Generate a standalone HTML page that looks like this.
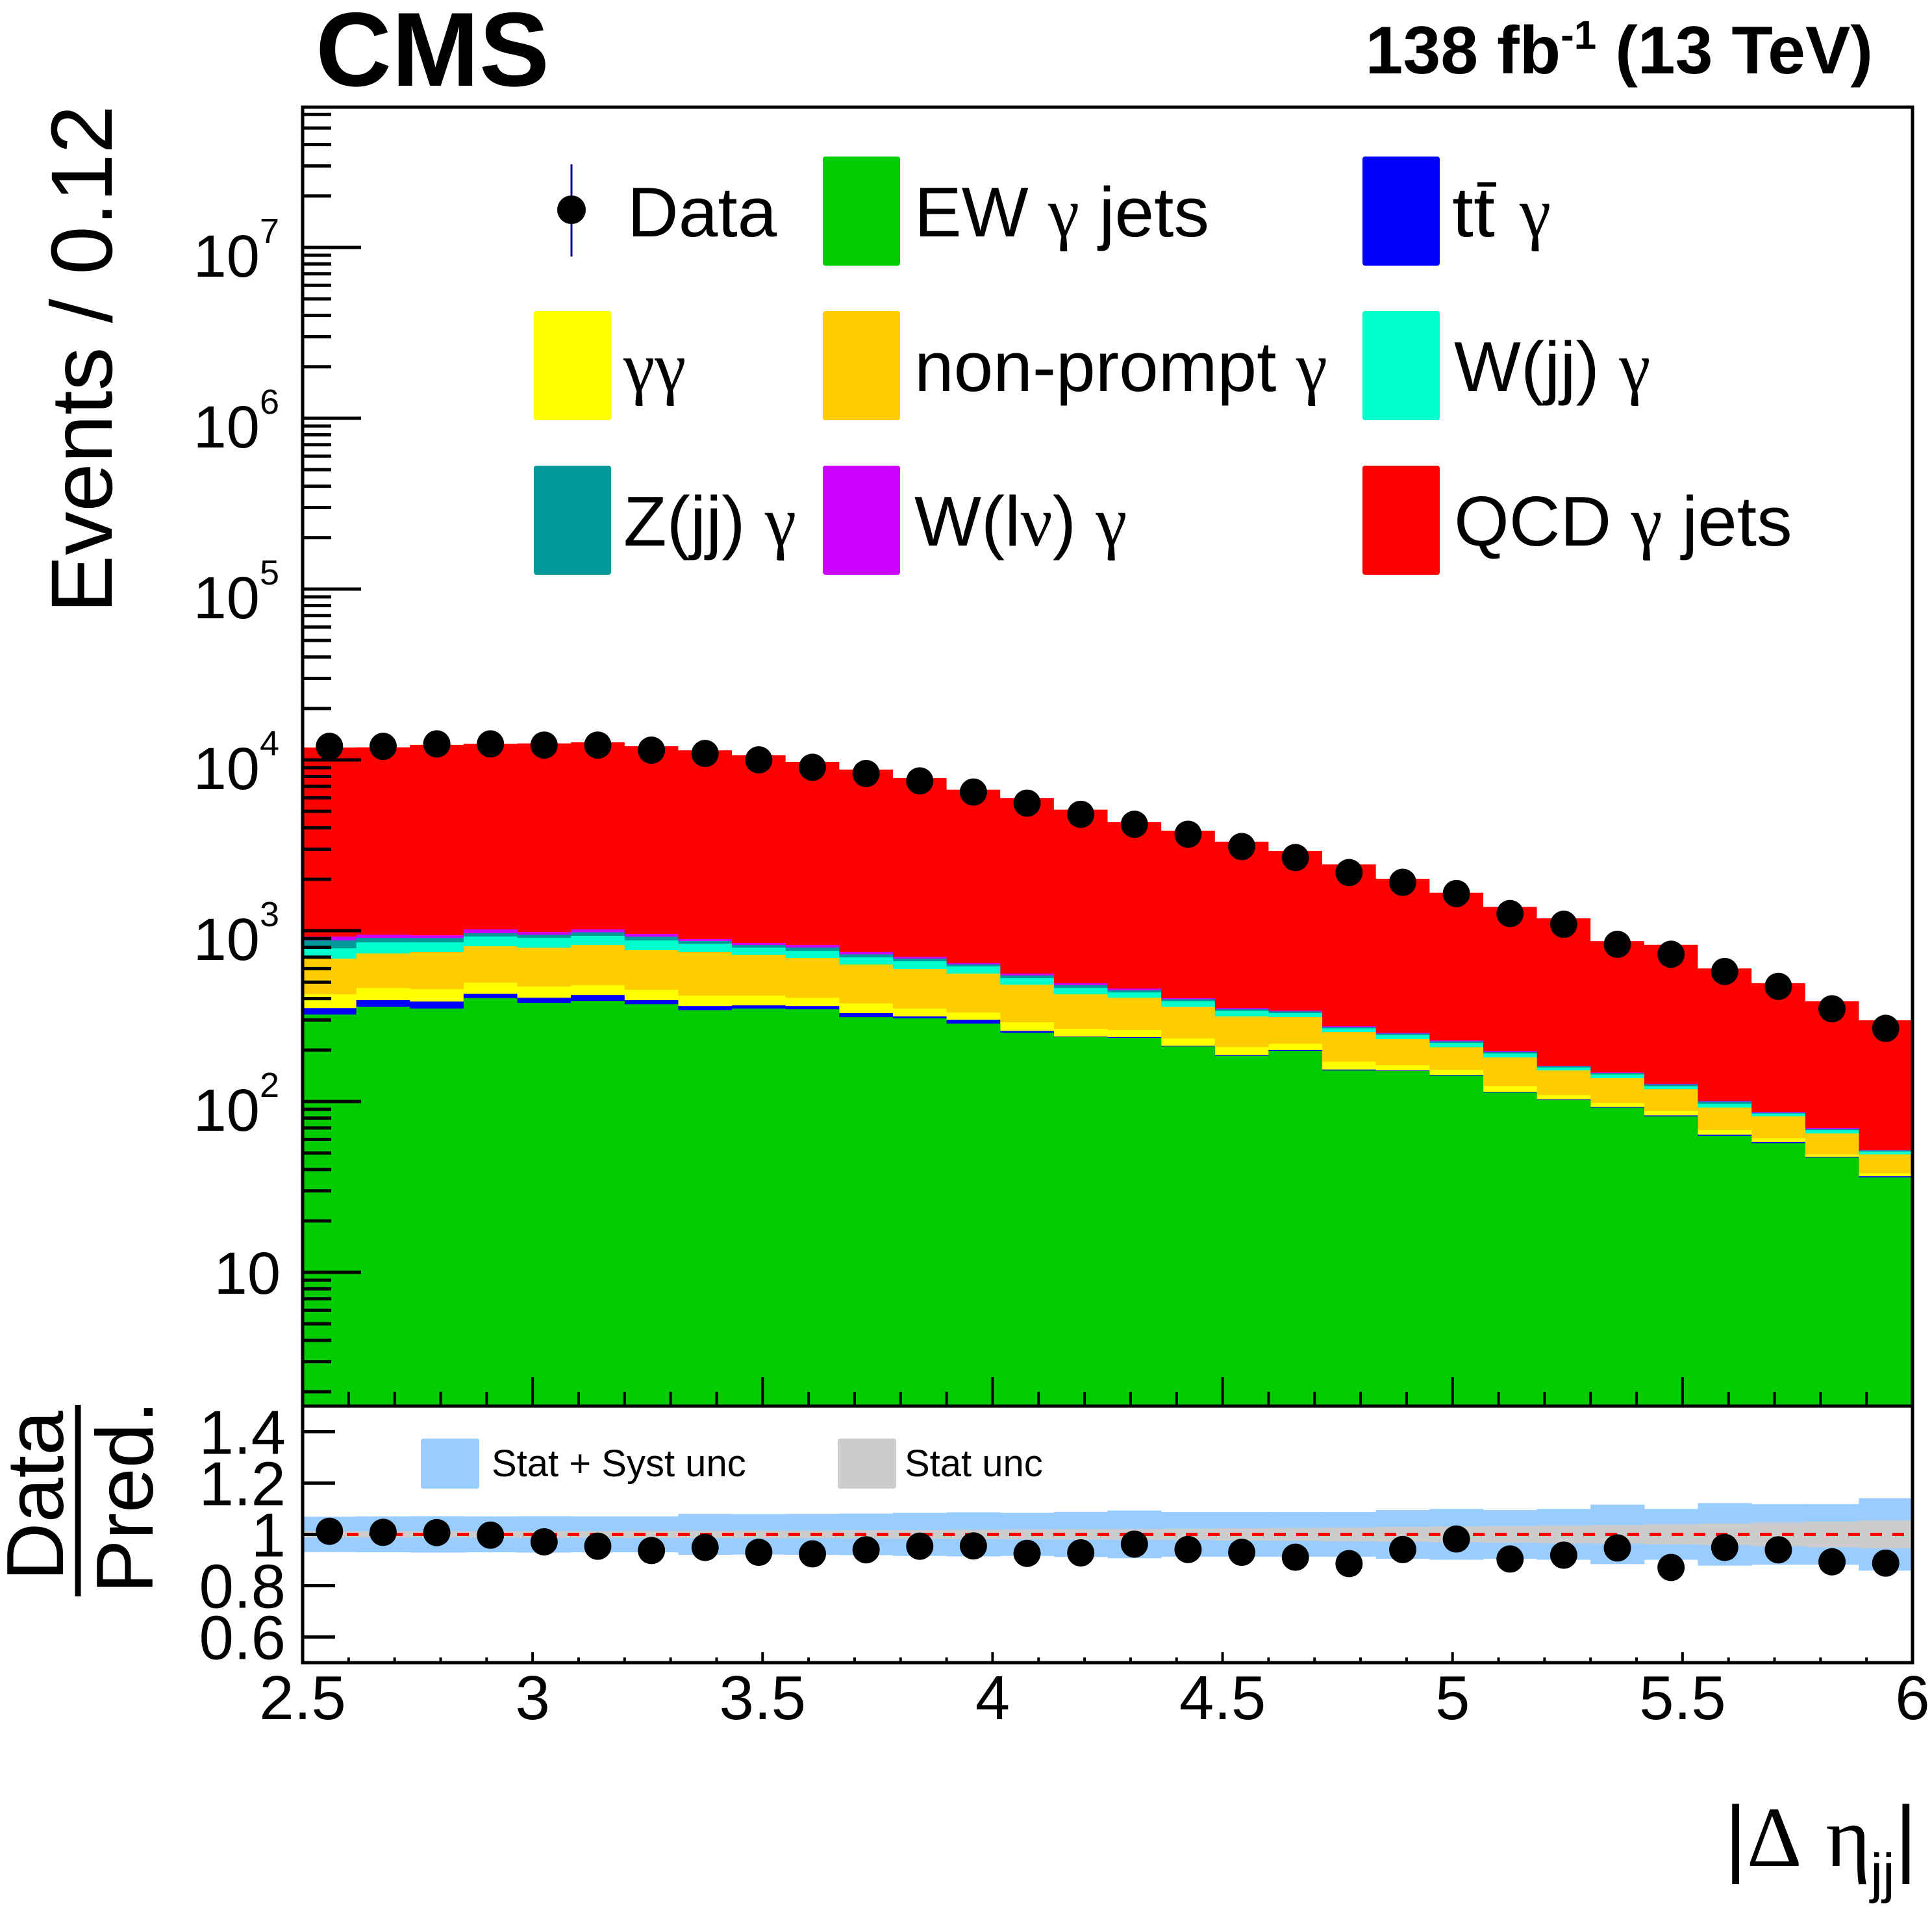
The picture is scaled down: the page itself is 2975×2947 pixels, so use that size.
<!DOCTYPE html>
<html><head><meta charset="utf-8">
<style>
html,body{margin:0;padding:0;background:#fff;}
svg{display:block;}
text{font-family:"Liberation Sans",sans-serif;fill:#000;}
.serif{font-family:"Liberation Serif",serif;}
</style></head>
<body>
<svg id="chart" width="2975" height="2947" viewBox="0 0 2975 2947" xmlns="http://www.w3.org/2000/svg">
  <rect x="0" y="0" width="2975" height="2947" fill="#fff"/>
  <g id="main-plot"></g>
  <g id="ratio-plot"></g>

  <text x="486" y="132" font-size="162" font-weight="bold">CMS</text>
  <text x="2884" y="113" font-size="104" font-weight="bold" text-anchor="end">138 fb<tspan dy="-38" font-size="62">-1</tspan><tspan dy="38"> (13 TeV)</tspan></text>

  <text transform="translate(172,162) rotate(-90)" font-size="134" text-anchor="end">Events / 0.12</text>

  <g>
    <text transform="translate(97,2303) rotate(-90)" font-size="124" text-anchor="middle">Data</text>
    <line x1="120" y1="2163" x2="120" y2="2458" stroke="#000" stroke-width="9"/>
    <text transform="translate(235,2305) rotate(-90)" font-size="124" text-anchor="middle">Pred.</text>
  </g>

  <text x="2952" y="2873" font-size="132" text-anchor="end">|<tspan class="serif">Δ</tspan> <tspan class="serif">η</tspan><tspan font-size="84" dy="40">jj</tspan><tspan dy="-40">|</tspan></text>

  <g id="legend">
    <g>
      <line x1="880" y1="253" x2="880" y2="395" stroke="#000080" stroke-width="3"/>
      <circle cx="880" cy="323" r="22" fill="#000"/>
      <text x="966" y="364" font-size="109">Data</text>
    </g>
    <g>
      <rect x="1267" y="241" width="119" height="168" rx="4" fill="#00cc00"/>
      <text x="1408" y="364" font-size="109">EW <tspan class="serif">γ</tspan> jets</text>
    </g>
    <g>
      <rect x="2098" y="241" width="119" height="168" rx="4" fill="#0000ff"/>
      <text x="2236" y="364" font-size="109" textLength="66" lengthAdjust="spacingAndGlyphs">tt</text>
      <line x1="2275" y1="284" x2="2304" y2="284" stroke="#000" stroke-width="7"/>
      <text x="2340" y="364" font-size="109" class="serif">γ</text>
    </g>
    <g>
      <rect x="822" y="479" width="119" height="168" rx="4" fill="#ffff00"/>
      <text x="960" y="602" font-size="109" class="serif">γγ</text>
    </g>
    <g>
      <rect x="1267" y="479" width="119" height="168" rx="4" fill="#ffcc00"/>
      <text x="1408" y="602" font-size="109">non-prompt <tspan class="serif">γ</tspan></text>
    </g>
    <g>
      <rect x="2098" y="479" width="119" height="168" rx="4" fill="#00ffcc"/>
      <text x="2239" y="602" font-size="109">W(jj) <tspan class="serif">γ</tspan></text>
    </g>
    <g>
      <rect x="822" y="717" width="119" height="168" rx="4" fill="#009999"/>
      <text x="960" y="840" font-size="109">Z(jj) <tspan class="serif">γ</tspan></text>
    </g>
    <g>
      <rect x="1267" y="717" width="119" height="168" rx="4" fill="#cc00ff"/>
      <text x="1408" y="840" font-size="109">W(l<tspan class="serif">ν</tspan>) <tspan class="serif">γ</tspan></text>
    </g>
    <g>
      <rect x="2098" y="717" width="119" height="168" rx="4" fill="#ff0000"/>
      <text x="2239" y="840" font-size="109">QCD <tspan class="serif">γ</tspan> jets</text>
    </g>
  </g>

  <g>
    <rect x="648" y="2215" width="90" height="77" rx="4" fill="#99ccff"/>
    <text x="757" y="2273" font-size="58">Stat + Syst unc</text>
    <rect x="1290" y="2215" width="90" height="77" rx="4" fill="#cccccc"/>
    <text x="1393" y="2273" font-size="58">Stat unc</text>
  </g>
</svg>
<script>
// ---- data (30 bins, |Δη_jj| from 2.5 to 6) ----
const binLo = 2.5;
const binHi = 6.0;
const nBins = 30;
const ewJets   = [323,359,350,403,378,388,371,343,350,347,312,307,286,253,238,236,210,185,198,152,151,142,113,102,92,82,63,57,47,36];
const ttGamma  = [29,33,35,25,27,32,21,19,16,15,17,8,15,6,2,2,2,2,2,2,1,1,1,1,1,1,1,1,0.5,0.5];
const diphoton = [72,70,70,69,66,60,59,55,51,43,46,35,31,32,27,24,22,21,18,17,11,10,9,6,5,5,4,3,1.5,1.5];
const nonPrompt= [263,273,295,314,325,344,318,333,306,287,259,247,229,192,157,143,125,107,94,84,69,55,58,43,39,30,24,21,16,11];
const wjjGamma = [102,120,105,114,111,109,108,89,73,70,64,65,57,44,38,30,28,24,17,13,13,12,10,6,7,5,5,3,3,2];
const zjjGamma = [88,52,50,41,40,45,45,30,28,35,29,25,17,20,18,14,10,8,8,5,5,5,4,3,3,3,3,1,1,0.7];
const wlnuGamma= [47,41,35,52,35,40,35,24,23,27,23,18,11,14,12,10,6,5,4,3,3,3,3,1,1,1,1,1,1,0.3];
const qcdJets  = [10900,10900,11300,11400,11500,11650,11070,10480,9800,8920,8030,7120,6050,5410,4620,3860,3450,2970,2590,2170,1760,1440,1180,1020,720,700,500,406,317,247];
const dataCounts = [12000,12000,12400,12400,12200,12200,11400,10900,10000,9050,8320,7530,6480,5580,4800,4200,3670,3110,2680,2190,1920,1650,1260,1090,832,728,577,472,349,268];
const ratioValues = [1.012,1.008,1.007,0.997,0.971,0.954,0.937,0.949,0.930,0.924,0.940,0.954,0.955,0.926,0.928,0.962,0.941,0.930,0.911,0.886,0.941,0.982,0.904,0.919,0.947,0.871,0.949,0.940,0.893,0.888];
const totUnc  = [0.069,0.070,0.071,0.070,0.071,0.070,0.070,0.080,0.079,0.080,0.081,0.084,0.086,0.084,0.088,0.093,0.087,0.087,0.087,0.087,0.095,0.099,0.095,0.099,0.116,0.099,0.122,0.118,0.118,0.141];
const statUnc = [0.012,0.012,0.012,0.012,0.013,0.013,0.014,0.014,0.015,0.015,0.016,0.017,0.018,0.019,0.020,0.021,0.022,0.024,0.025,0.027,0.029,0.031,0.033,0.035,0.036,0.039,0.042,0.046,0.050,0.055];
const yTickExp = [1,2,3,4,5,6,7];
const xTickLabels = ["2.5","3","3.5","4","4.5","5","5.5","6"];
const ratioTickLabels = ["0.6","0.8","1","1.2","1.4"];

// ---- geometry ----
const L = 466, R = 2945, T = 165, MB = 2165, RB = 2560;
const NS = "http://www.w3.org/2000/svg";
const main = document.getElementById('main-plot');
const ratioG = document.getElementById('ratio-plot');
const logMin = 0.217, logMax = 7.821;
function xs(v){ return L + (v - binLo) / (binHi - binLo) * (R - L); }
function ys(v){ const lv = Math.log10(Math.max(v, 1e-3)); return MB - (lv - logMin) / (logMax - logMin) * (MB - T); }
function yr(v){ return RB - (v - 0.5) / 1.0 * (RB - MB); }
function mk(tag, parent){ const e = document.createElementNS(NS, tag); parent.appendChild(e); return e; }
const bw = (binHi - binLo) / nBins;

// ---- stacked histogram ----
const layers = [ewJets, ttGamma, diphoton, nonPrompt, wjjGamma, zjjGamma, wlnuGamma, qcdJets];
const colors = ["#00cc00","#0000ff","#ffff00","#ffcc00","#00ffcc","#009999","#cc00ff","#ff0000"];
const names = ["stack-ew-gamma-jets","stack-ttbar-gamma","stack-diphoton","stack-nonprompt-gamma","stack-wjj-gamma","stack-zjj-gamma","stack-wlnu-gamma","stack-qcd-gamma-jets"];
const cum = [];
let run = new Array(nBins).fill(0);
for (let k = 0; k < layers.length; k++) {
  run = run.map((s, i) => s + layers[k][i]);
  cum.push(run.slice());
}
for (let k = layers.length - 1; k >= 0; k--) {
  let d = "M" + L + "," + MB;
  for (let i = 0; i < nBins; i++) {
    const y = Math.min(ys(cum[k][i]), MB);
    d += " L" + xs(binLo + i * bw) + "," + y + " L" + xs(binLo + (i + 1) * bw) + "," + y;
  }
  d += " L" + R + "," + MB + " Z";
  const p = mk('path', main);
  p.setAttribute('d', d);
  p.setAttribute('fill', colors[k]);
  
  
}

// ---- data points (main) ----
for (let i = 0; i < nBins; i++) {
  const c = mk('circle', main);
  c.setAttribute('cx', xs(binLo + (i + 0.5) * bw));
  c.setAttribute('cy', ys(dataCounts[i]));
  c.setAttribute('r', 21);
  c.setAttribute('fill', '#000');
  
  
}

// ---- main axes ----
const frame = mk('rect', main);
frame.setAttribute('x', L); frame.setAttribute('y', T);
frame.setAttribute('width', R - L); frame.setAttribute('height', MB - T);
frame.setAttribute('fill', 'none'); frame.setAttribute('stroke', '#000'); frame.setAttribute('stroke-width', 5);



for (let e = 0; e <= 7; e++) {
  for (let m = 1; m <= 9; m++) {
    const v = m * Math.pow(10, e);
    const y = ys(v);
    if (y < T || y > MB) continue;
    const t = mk('line', main);
    t.setAttribute('x1', L); t.setAttribute('x2', L + (m === 1 ? 90 : 44));
    t.setAttribute('y1', y); t.setAttribute('y2', y);
    t.setAttribute('stroke', '#000'); t.setAttribute('stroke-width', 5);
    
    
  }
}
for (const ex of yTickExp) {
  const y = ys(Math.pow(10, ex));
  const tx = mk('text', main);
  tx.setAttribute('font-size', 92);
  tx.setAttribute('text-anchor', 'end');
  
  
  if (ex === 1) {
    tx.setAttribute('x', 432); tx.setAttribute('y', y + 33);
    tx.textContent = "10";
  } else {
    tx.setAttribute('x', 430); tx.setAttribute('y', y + 45);
    tx.innerHTML = '10<tspan dy="-52" font-size="54">' + ex + '</tspan>';
  }
}
for (let j = 0; j <= 35; j++) {
  const v = binLo + j * 0.1;
  const x = xs(v);
  const major = (j % 5 === 0);
  const t = mk('line', main);
  t.setAttribute('x1', x); t.setAttribute('x2', x);
  t.setAttribute('y1', MB); t.setAttribute('y2', MB - (major ? 45 : 22));
  t.setAttribute('stroke', '#000'); t.setAttribute('stroke-width', 4);
  
  
  const t2 = mk('line', ratioG);
  t2.setAttribute('x1', x); t2.setAttribute('x2', x);
  t2.setAttribute('y1', RB); t2.setAttribute('y2', RB - (major ? 16 : 8));
  t2.setAttribute('stroke', '#000'); t2.setAttribute('stroke-width', 4);
  
  
}

// ---- ratio panel ----
for (let i = 0; i < nBins; i++) {
  const x0 = xs(binLo + i * bw), x1 = xs(binLo + (i + 1) * bw);
  const b = mk('rect', ratioG);
  b.setAttribute('x', x0); b.setAttribute('width', x1 - x0 + 0.5);
  b.setAttribute('y', yr(1 + totUnc[i])); b.setAttribute('height', yr(1 - totUnc[i]) - yr(1 + totUnc[i]));
  b.setAttribute('fill', '#99ccff');
  
  
  const g = mk('rect', ratioG);
  g.setAttribute('x', x0); g.setAttribute('width', x1 - x0 + 0.5);
  g.setAttribute('y', yr(1 + statUnc[i])); g.setAttribute('height', yr(1 - statUnc[i]) - yr(1 + statUnc[i]));
  g.setAttribute('fill', '#cccccc');
  
  
}
const ref = mk('line', ratioG);
ref.setAttribute('x1', L); ref.setAttribute('x2', R);
ref.setAttribute('y1', yr(1)); ref.setAttribute('y2', yr(1));
ref.setAttribute('stroke', '#ff0000'); ref.setAttribute('stroke-width', 5);
ref.setAttribute('stroke-dasharray', '18,16');


for (let i = 0; i < nBins; i++) {
  const c = mk('circle', ratioG);
  c.setAttribute('cx', xs(binLo + (i + 0.5) * bw));
  c.setAttribute('cy', yr(ratioValues[i]));
  c.setAttribute('r', 21);
  c.setAttribute('fill', '#000');
  
  
}
const rframe = mk('rect', ratioG);
rframe.setAttribute('x', L); rframe.setAttribute('y', MB);
rframe.setAttribute('width', R - L); rframe.setAttribute('height', RB - MB);
rframe.setAttribute('fill', 'none'); rframe.setAttribute('stroke', '#000'); rframe.setAttribute('stroke-width', 5);


for (const lab of ratioTickLabels) {
  const v = parseFloat(lab);
  const y = yr(v);
  const t = mk('line', ratioG);
  t.setAttribute('x1', L); t.setAttribute('x2', L + 50);
  t.setAttribute('y1', y); t.setAttribute('y2', y);
  t.setAttribute('stroke', '#000'); t.setAttribute('stroke-width', 5);
  
  
  const tx = mk('text', ratioG);
  tx.setAttribute('x', 440); tx.setAttribute('y', y + 34);
  tx.setAttribute('font-size', 96); tx.setAttribute('text-anchor', 'end');
  tx.textContent = lab;
  
  
}
for (const lab of xTickLabels) {
  const tx = mk('text', ratioG);
  tx.setAttribute('x', xs(parseFloat(lab)));
  tx.setAttribute('y', 2647);
  tx.setAttribute('font-size', 96); tx.setAttribute('text-anchor', 'middle');
  tx.textContent = lab;
  
  
}
</script>
</body></html>
